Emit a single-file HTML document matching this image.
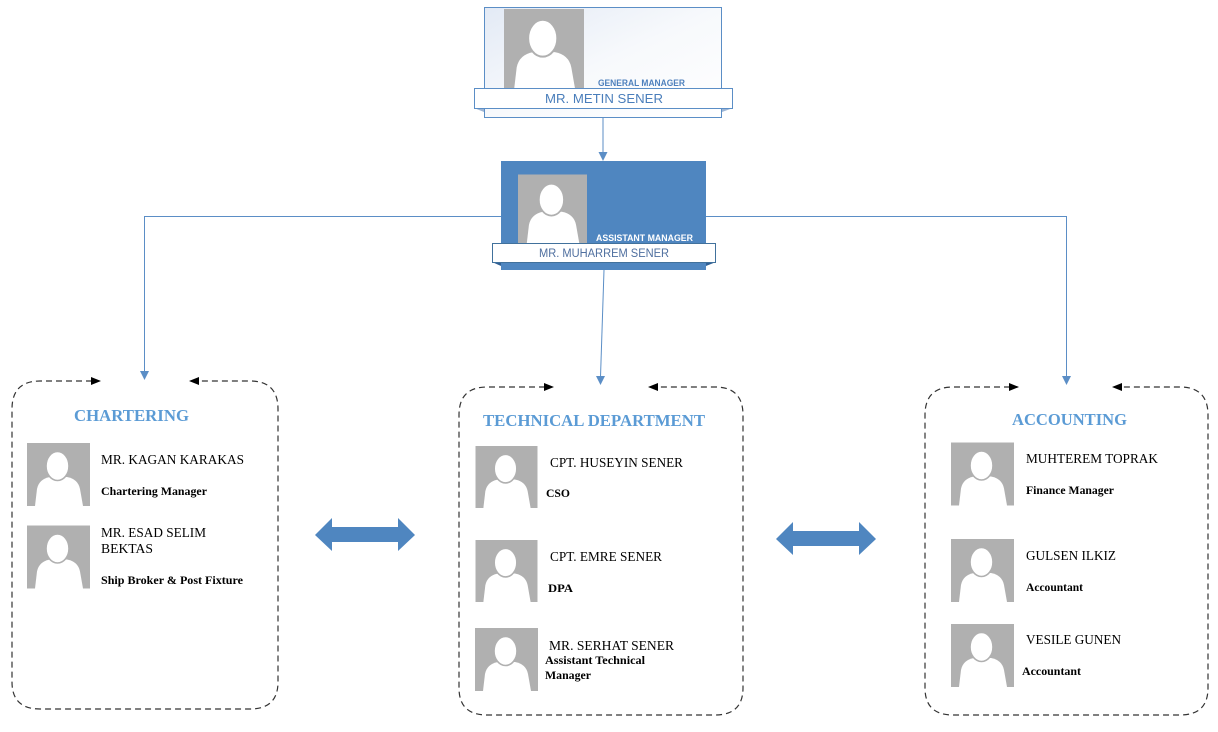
<!DOCTYPE html>
<html><head><meta charset="utf-8"><style>
html,body{margin:0;padding:0;background:#fff;}
svg{display:block;}
.t{font-family:"Liberation Serif",serif;fill:#000;}
.h{font-family:"Liberation Serif",serif;font-weight:bold;fill:#5b9bd5;font-size:16.5px;}
.b{font-weight:bold;}
</style></head><body>
<svg width="1218" height="732" viewBox="0 0 1218 732" xmlns="http://www.w3.org/2000/svg">
<defs>
<linearGradient id="gm" x1="0" y1="0" x2="1" y2="1">
<stop offset="0" stop-color="#e3eaf5"/><stop offset="0.5" stop-color="#f7f9fc"/><stop offset="1" stop-color="#ffffff"/>
</linearGradient>
<symbol id="p" viewBox="0 0 63 63">
<rect width="63" height="63" fill="#b0b0b0"/>
<path d="M8 63 L10 46 Q12 36 23 34 L40 34 Q51 36 53 46 L56 63 Z" fill="#fff"/>
<ellipse cx="30.5" cy="23" rx="11.5" ry="14.5" fill="#fff" stroke="#b0b0b0" stroke-width="1.6"/>
</symbol>
</defs>

<!-- General manager -->
<rect x="484.5" y="7.5" width="237" height="110" fill="url(#gm)" stroke="#5b8ec6"/>
<use href="#p" x="504" y="9" width="80" height="80"/>
<polygon points="474,108 484,108 484,112" fill="#9db5d5"/>
<polygon points="733,108 722,108 722,112" fill="#9db5d5"/>
<rect x="474.5" y="88.5" width="258" height="20" fill="#fff" stroke="#5b8ec6"/>
<text x="598" y="86" font-family="Liberation Sans,sans-serif" font-weight="bold" font-size="9.5" fill="#4f81bd" textLength="87" lengthAdjust="spacingAndGlyphs">GENERAL MANAGER</text>
<text x="545" y="103" font-family="Liberation Sans,sans-serif" font-size="13" fill="#4a7ebb" textLength="118" lengthAdjust="spacingAndGlyphs">MR. METIN SENER</text>

<!-- connector GM -> AM -->
<line x1="603" y1="117" x2="603" y2="153" stroke="#5b8ec6"/>
<polygon points="598.5,152 607.5,152 603,161" fill="#5b8ec6"/>

<!-- Assistant manager -->
<rect x="501" y="161" width="205" height="109" fill="#4f86c0"/>
<use href="#p" x="518" y="174" width="69" height="70"/>
<polygon points="492,262 501,262 501,266" fill="#2f5f94"/>
<polygon points="716,262 706,262 706,266" fill="#2f5f94"/>
<rect x="492.5" y="243.5" width="223" height="19" fill="#fff" stroke="#41719c"/>
<text x="596" y="241" font-family="Liberation Sans,sans-serif" font-weight="bold" font-size="9.5" fill="#fff" textLength="97" lengthAdjust="spacingAndGlyphs">ASSISTANT MANAGER</text>
<text x="539" y="257" font-family="Liberation Sans,sans-serif" font-size="11.5" fill="#4f6f9f" textLength="130" lengthAdjust="spacingAndGlyphs">MR. MUHARREM SENER</text>

<!-- blue connectors -->
<polyline points="501,216.5 144.5,216.5 144.5,372" fill="none" stroke="#5b8ec6"/>
<polygon points="140,371 149,371 144.5,380" fill="#5b8ec6"/>
<polyline points="706,216.5 1066.5,216.5 1066.5,377" fill="none" stroke="#5b8ec6"/>
<polygon points="1062,376 1071,376 1066.5,385" fill="#5b8ec6"/>
<line x1="604" y1="270" x2="600.5" y2="377" stroke="#5b8ec6"/>
<polygon points="596,376 605,376 600.5,385" fill="#5b8ec6"/>

<!-- dashed boxes -->
<g fill="none" stroke="#333" stroke-width="1.2" stroke-dasharray="6,4">
<path d="M92 381 L40 381 Q12 381 12 409 L12 682 Q12 709 40 709 L250 709 Q278 709 278 682 L278 409 Q278 381 250 381 L198 381"/>
<path d="M545 387 L487 387 Q459 387 459 415 L459 688 Q459 715 487 715 L715 715 Q743 715 743 688 L743 415 Q743 387 715 387 L657 387"/>
<path d="M1010 387 L953 387 Q925 387 925 415 L925 688 Q925 715 953 715 L1180 715 Q1208 715 1208 688 L1208 415 Q1208 387 1180 387 L1121 387"/>
</g>
<g fill="#000">
<polygon points="91,377 101,381 91,385"/>
<polygon points="199,377 189,381 199,385"/>
<polygon points="544,383 554,387 544,391"/>
<polygon points="658,383 648,387 658,391"/>
<polygon points="1009,383 1019,387 1009,391"/>
<polygon points="1122,383 1112,387 1122,391"/>
</g>

<!-- double arrows -->
<polygon points="315,535 332,518 332,527 398,527 398,518 415,535 398,551 398,542 332,542 332,551" fill="#4f86c0"/>
<polygon points="776,539 793,522 793,531 859,531 859,522 876,539 859,555 859,546 793,546 793,555" fill="#4f86c0"/>

<!-- Chartering -->
<text class="h" x="74" y="421" textLength="115" lengthAdjust="spacingAndGlyphs">CHARTERING</text>
<use href="#p" x="27" y="443" width="63" height="63"/>
<use href="#p" x="27" y="525" width="63" height="64"/>
<text class="t" x="101" y="464" font-size="13.5" textLength="143" lengthAdjust="spacingAndGlyphs">MR. KAGAN KARAKAS</text>
<text class="t b" x="101" y="495" font-size="12" textLength="106" lengthAdjust="spacingAndGlyphs">Chartering Manager</text>
<text class="t" x="101" y="537" font-size="13.5" textLength="105" lengthAdjust="spacingAndGlyphs">MR. ESAD SELIM</text>
<text class="t" x="101" y="553" font-size="13.5" textLength="52" lengthAdjust="spacingAndGlyphs">BEKTAS</text>
<text class="t b" x="101" y="584" font-size="12" textLength="142" lengthAdjust="spacingAndGlyphs">Ship Broker &amp; Post Fixture</text>

<!-- Technical -->
<text class="h" x="483" y="426" textLength="222" lengthAdjust="spacingAndGlyphs">TECHNICAL DEPARTMENT</text>
<use href="#p" x="475" y="446" width="63" height="62"/>
<use href="#p" x="475" y="540" width="63" height="62"/>
<use href="#p" x="475" y="628" width="63" height="63"/>
<text class="t" x="550" y="467" font-size="13.5" textLength="133" lengthAdjust="spacingAndGlyphs">CPT. HUSEYIN SENER</text>
<text class="t b" x="546" y="497" font-size="12" textLength="24" lengthAdjust="spacingAndGlyphs">CSO</text>
<text class="t" x="550" y="561" font-size="13.5" textLength="112" lengthAdjust="spacingAndGlyphs">CPT. EMRE SENER</text>
<text class="t b" x="548" y="592" font-size="12" textLength="25" lengthAdjust="spacingAndGlyphs">DPA</text>
<text class="t" x="549" y="650" font-size="13.5" textLength="125" lengthAdjust="spacingAndGlyphs">MR. SERHAT SENER</text>
<text class="t b" x="545" y="664" font-size="12" textLength="100" lengthAdjust="spacingAndGlyphs">Assistant Technical</text>
<text class="t b" x="545" y="679" font-size="12" textLength="46" lengthAdjust="spacingAndGlyphs">Manager</text>

<!-- Accounting -->
<text class="h" x="1012" y="425" textLength="115" lengthAdjust="spacingAndGlyphs">ACCOUNTING</text>
<use href="#p" x="951" y="442" width="63" height="64"/>
<use href="#p" x="951" y="539" width="63" height="63"/>
<use href="#p" x="951" y="624" width="63" height="63"/>
<text class="t" x="1026" y="463" font-size="13.5" textLength="132" lengthAdjust="spacingAndGlyphs">MUHTEREM TOPRAK</text>
<text class="t b" x="1026" y="494" font-size="12" textLength="88" lengthAdjust="spacingAndGlyphs">Finance Manager</text>
<text class="t" x="1026" y="560" font-size="13.5" textLength="90" lengthAdjust="spacingAndGlyphs">GULSEN ILKIZ</text>
<text class="t b" x="1026" y="591" font-size="12" textLength="57" lengthAdjust="spacingAndGlyphs">Accountant</text>
<text class="t" x="1026" y="644" font-size="13.5" textLength="95" lengthAdjust="spacingAndGlyphs">VESILE GUNEN</text>
<text class="t b" x="1022" y="675" font-size="12" textLength="59" lengthAdjust="spacingAndGlyphs">Accountant</text>
</svg>
</body></html>
